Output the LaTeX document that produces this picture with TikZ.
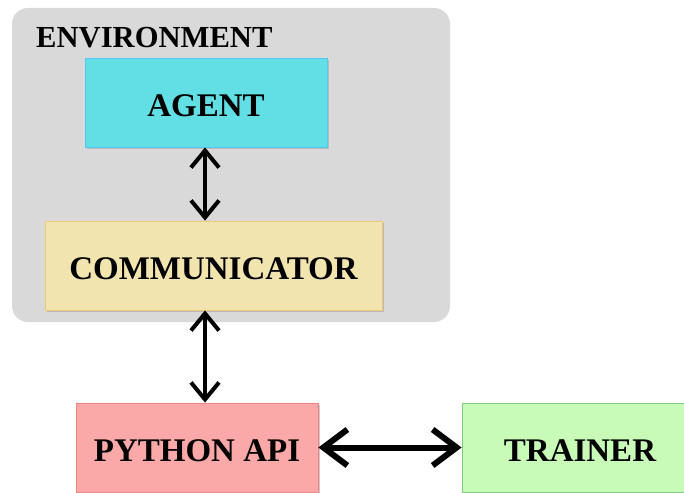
\documentclass[tikz,border=0pt]{standalone}
\usepackage{fontspec}
\setmainfont{Liberation Serif}
\usetikzlibrary{arrows.meta,shadows}
\definecolor{envfill}{HTML}{D9D9D9}
\definecolor{agentfill}{HTML}{62DFE4}
\definecolor{agentdraw}{HTML}{55C8F0}
\definecolor{commfill}{HTML}{F2E4AE}
\definecolor{commdraw}{HTML}{F0C878}
\definecolor{pyfill}{HTML}{FBA8A9}
\definecolor{pydraw}{HTML}{F08585}
\definecolor{trfill}{HTML}{C8FBB8}
\definecolor{trdraw}{HTML}{80CC80}
\tikzset{
  box/.style={rectangle, line width=0.8pt, inner sep=0pt,
    minimum height=89pt, text height=28pt, text depth=0pt,
    font=\fontsize{33}{33}\selectfont\bfseries,
    drop shadow={shadow xshift=2pt, shadow yshift=-2pt, fill=black!35, opacity=0.6}},
  vlink/.style={line width=4pt, {Straight Barb[length=17pt,width=28pt]}-{Straight Barb[length=17pt,width=28pt]}},
  hlink/.style={line width=6pt, {Straight Barb[length=24pt,width=36pt]}-{Straight Barb[length=24pt,width=36pt]}}
}
\begin{document}
\begin{tikzpicture}[x=1pt,y=-1pt]
\useasboundingbox (0,0) rectangle (684,492);
\clip (0,0) rectangle (684,492);
\fill[envfill, rounded corners=16pt] (12,8) rectangle (450,322);
\node[anchor=base west, font=\fontsize{30.6}{30.6}\selectfont\bfseries, inner sep=0pt] (envlabel) at (36,48) {ENVIRONMENT};
\node[box, fill=agentfill, draw=agentdraw, minimum width=242pt] (agent) at (206,102.5) {AGENT};
\node[box, fill=commfill, draw=commdraw, minimum width=337pt] (comm) at (213.5,265.5) {COMMUNICATOR};
\node[box, fill=pyfill, draw=pydraw, minimum width=242pt] (python) at (197,447.5) {PYTHON API};
\node[box, fill=trfill, draw=trdraw, minimum width=236pt] (trainer) at (580,447.5) {TRAINER};
\coordinate (ax) at (205,0);
\draw[vlink] (ax |- agent.south) -- (ax |- comm.north);
\draw[vlink] (ax |- comm.south) -- (ax |- python.north);
\draw[hlink] (python.east) -- (trainer.west);
\end{tikzpicture}
\end{document}
